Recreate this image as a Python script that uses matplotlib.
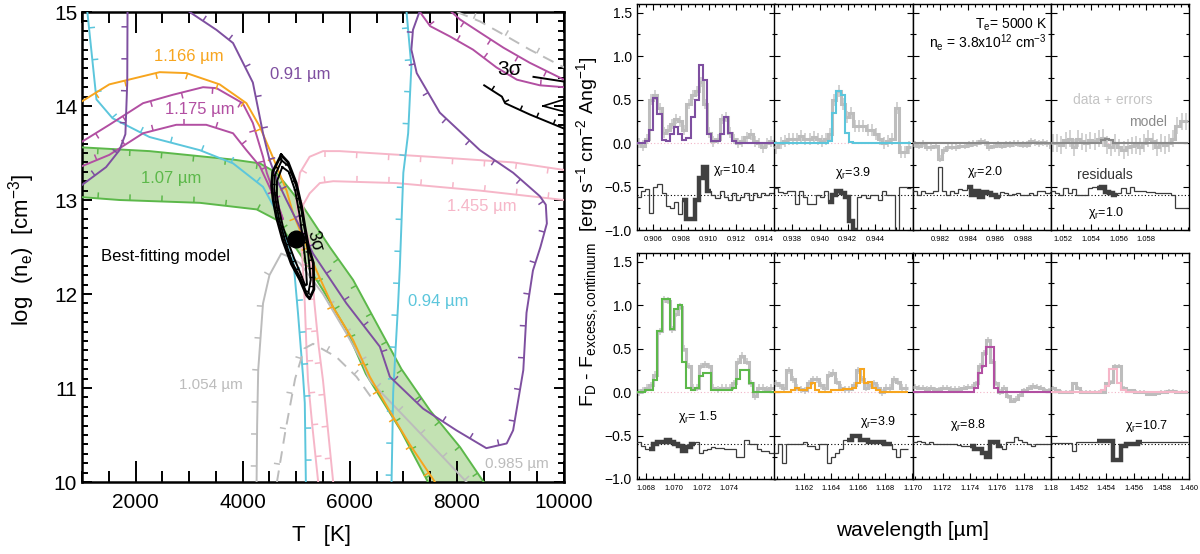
import numpy as np
import matplotlib
matplotlib.use("Agg")
import matplotlib.pyplot as plt
from matplotlib.ticker import MultipleLocator, FixedLocator, NullFormatter

plt.rcParams['font.family'] = ['Liberation Sans', 'DejaVu Sans']
plt.rcParams['mathtext.default'] = 'regular'

# ---------------- LEFT PANEL DATA (T [K], log n_e) ----------------
CYAN_L_T = [1100, 1270, 1570, 2260, 3200, 3820, 4380, 4580, 4820, 4940, 5034, 5128, 5160, 5180]
CYAN_L_N = [15.0, 14.07, 13.87, 13.67, 13.53, 13.39, 13.14, 12.93, 12.57, 12.4, 11.79, 11.12, 10.84, 10.0]
CYAN_R_T = [7060, 7150, 7090, 7000, 6935, 6903, 6810, 6780]
CYAN_R_N = [15.0, 14.42, 13.71, 13.29, 12.29, 11.9, 10.95, 10.0]

PURPLE_A_T = [1000, 1450, 1700, 1810, 1845, 1850]
PURPLE_A_N = [13.16, 13.35, 13.53, 13.7, 14.25, 15.0]
PURPLE_B_T = [3010, 3510, 3820, 4190, 4380, 4500, 4650, 4817, 5314, 5938, 6561, 6748, 7370, 7990,
              8550, 8930, 9050, 9240, 9300, 9420, 9560, 9680, 9660, 9550, 9050, 8430, 7680, 7250,
              7150, 7180, 7300]
PURPLE_B_N = [15.0, 14.81, 14.67, 14.25, 13.71, 13.43, 13.2, 13.0, 12.43, 11.9, 11.44, 11.12, 10.78, 10.55,
              10.36, 10.41, 10.55, 11.19, 11.8, 12.25, 12.5, 12.75, 12.95, 13.04, 13.29, 13.53, 13.93, 14.35,
              14.6, 14.81, 15.0]

ORANGE_T = [1000, 1510, 2450, 2950, 3570, 4070, 4320, 4560, 4820, 4940, 5377, 5688, 6062, 6374, 6750, 7120, 7590]
ORANGE_N = [14.05, 14.23, 14.36, 14.35, 14.23, 14.03, 13.78, 13.46, 13.1, 12.86, 12.25, 11.86, 11.51, 11.12, 10.75, 10.4, 10.0]

MAG_U_T = [1000, 1510, 2140, 2700, 3260, 3510, 4000, 4190, 4380, 4450, 4600, 4750]
MAG_U_N = [13.62, 13.8, 14.03, 14.12, 14.2, 14.19, 14.03, 13.82, 13.46, 13.29, 13.05, 12.8]
MAG_L_T = [1000, 1510, 2140, 2760, 3320, 3820, 4070, 4320, 4500, 4650, 4750]
MAG_L_N = [13.36, 13.48, 13.71, 13.8, 13.8, 13.71, 13.53, 13.36, 13.14, 12.95, 12.8]
MAG_C1_T = [7310, 7500, 7870, 8300, 8740, 9120, 9550, 10000]
MAG_C1_N = [15.0, 14.85, 14.74, 14.6, 14.41, 14.28, 14.22, 14.2]
MAG_C2_T = [7900, 8060, 8490, 8870, 9360, 10000]
MAG_C2_N = [15.0, 14.92, 14.76, 14.62, 14.46, 14.28]

GRAY_DC_T = [8000, 8430, 8870, 9360, 10000]
GRAY_DC_N = [15.0, 14.9, 14.76, 14.6, 14.41]
GRAY_S_T = [4260, 4270, 4290, 4380, 4500, 4720, 4850, 5065, 5500, 5938, 6249, 6374, 7180, 8180]
GRAY_S_N = [10.0, 10.6, 11.19, 11.9, 12.2, 12.43, 12.4, 12.33, 12.0, 11.58, 11.26, 11.08, 10.6, 10.0]
GRAY_D_T = [4640, 4800, 4980, 5150, 5314, 5750, 6125, 6400]
GRAY_D_N = [10.0, 10.55, 11.1, 11.42, 11.47, 11.33, 11.12, 10.9]

PINK_1_T = [10000, 9050, 7500, 5810, 5500, 5250, 5070, 5000, 5050, 5100, 5130, 5160, 5190, 5220, 5300, 5410]
PINK_1_N = [13.32, 13.4, 13.46, 13.52, 13.52, 13.46, 13.29, 13.0, 12.75, 12.54, 12.22, 11.9, 11.44, 11.08, 10.6, 10.0]
PINK_2_T = [10000, 8430, 6870, 5690, 5440, 5250, 5130, 5150, 5250, 5300, 5340, 5420, 5500, 5690]
PINK_2_N = [13.0, 13.1, 13.18, 13.2, 13.18, 13.07, 12.95, 12.75, 12.54, 12.2, 11.9, 11.44, 11.08, 10.0]

GREEN_U_T = [1000, 2260, 3820, 4320, 4630, 4900, 5127, 5626, 6062, 6499, 6966, 7500, 8060, 8500]
GREEN_U_N = [13.56, 13.52, 13.43, 13.39, 13.29, 13.1, 12.93, 12.5, 12.15, 11.69, 11.2, 10.76, 10.37, 10.0]
GREEN_L_T = [1000, 1700, 3200, 4260, 4630, 4800, 5065, 5500, 5938, 6300, 6950, 7460]
GREEN_L_N = [13.03, 13.0, 12.97, 12.9, 12.79, 12.65, 12.43, 12.04, 11.62, 11.15, 10.55, 10.0]

SIG3_T = [4720, 4560, 4540, 4570, 4630, 4750, 4910, 5070, 5190, 5250, 5330, 5320, 5230, 5160, 5100, 5000, 4850, 4720]
SIG3_N = [13.48, 13.3, 13.15, 13.0, 12.82, 12.57, 12.32, 12.15, 11.99, 11.95, 12.05, 12.33, 12.5, 12.72, 12.93, 13.18, 13.4, 13.48]
SIG2_T = [4730, 4600, 4590, 4620, 4680, 4790, 4930, 5080, 5180, 5230, 5270, 5220, 5150, 5090, 5000, 4860, 4730]
SIG2_N = [13.42, 13.26, 13.12, 12.98, 12.8, 12.57, 12.33, 12.17, 12.03, 12.02, 12.15, 12.45, 12.72, 12.92, 13.15, 13.36, 13.42]
SIG1_T = [4740, 4640, 4640, 4680, 4750, 4850, 4960, 5080, 5160, 5200, 5180, 5120, 5060, 4980, 4860, 4740]
SIG1_N = [13.35, 13.2, 13.05, 12.9, 12.72, 12.55, 12.38, 12.22, 12.1, 12.1, 12.3, 12.6, 12.85, 13.1, 13.3, 13.35]
BLK_C_T = [8510, 8840, 8900, 9360, 10000]
BLK_C_N = [14.22, 14.1, 14.03, 13.91, 13.76]
BLK_S_T = [9430, 10000]
BLK_S_N = [14.31, 14.26]
BLK_TRI_T = [9610, 10000, 10000, 9610]
BLK_TRI_N = [14.0, 14.07, 13.94, 14.0]
BEST_T, BEST_N = 5000, 12.58

# ---------------- RIGHT PANELS DATA ----------------
BIN = 0.0003
STARTS = [0.9048, 0.9367, 0.9800, 1.0511, 1.0673, 1.1598, 1.1698, 1.4500]
XLIMS = [(0.9048, 0.9148), (0.9367, 0.9467), (0.9800, 0.9900), (1.0511, 1.0611),
         (1.0673, 1.0773), (1.1598, 1.1700), (1.1698, 1.1800), (1.4500, 1.4600)]
TICKS = [[0.906, 0.908, 0.910, 0.912, 0.914], [0.938, 0.940, 0.942, 0.944],
         [0.982, 0.984, 0.986, 0.988], [1.052, 1.054, 1.056, 1.058],
         [1.068, 1.070, 1.072, 1.074], [1.162, 1.164, 1.166, 1.168, 1.170],
         [1.172, 1.174, 1.176, 1.178, 1.18], [1.452, 1.454, 1.456, 1.458, 1.460]]
TICKLABELS = [['0.906', '0.908', '0.910', '0.912', '0.914'], ['0.938', '0.940', '0.942', '0.944'],
              ['0.982', '0.984', '0.986', '0.988'], ['1.052', '1.054', '1.056', '1.058'],
              ['1.068', '1.070', '1.072', '1.074'], ['1.162', '1.164', '1.166', '1.168', '1.170'],
              ['1.172', '1.174', '1.176', '1.178', '1.18'], ['1.452', '1.454', '1.456', '1.458', '1.460']]

P1_DATA = [0.0, -0.03, 0.05, 0.5, 0.55, 0.4, 0.12, 0.15, 0.22, 0.28, 0.25, 0.15, 0.45, 0.55, 0.6, 0.7, 0.45,
           0.12, 0.02, 0.05, 0.28, 0.3, 0.12, 0.05, 0.0, 0.02, 0.07, 0.1, 0.02, 0.0, -0.05, 0.0, 0.02, -0.02]
P1_MODEL = [0, 0, 0.02, 0.15, 0.52, 0.33, 0.04, 0.02, 0.1, 0.18, 0.1, 0.03, 0.06, 0.3, 0.5, 0.9, 0.72,
            0.1, 0.02, 0.02, 0.1, 0.3, 0.12, 0.02, 0, 0, 0, 0, 0, 0, 0, 0, 0, 0]
P1_RESID = [-0.62, -0.55, -0.53, -0.8, -0.5, -0.47, -0.58, -0.72, -0.75, -0.68, -0.82, -0.65, -0.87, -0.87,
            -0.65, -0.4, -0.28, -0.55, -0.6, -0.63, -0.55, -0.62, -0.65, -0.58, -0.65, -0.62, -0.57, -0.65,
            -0.57, -0.62, -0.58, -0.6, -0.58, -0.6]
P2_DATA = [-0.05, 0.0, 0.02, 0.05, 0.05, 0.05, 0.08, 0.05, 0.05, 0.07, 0.05, 0.02, 0.05, 0.1, 0.5, 0.6, 0.45,
           0.3, 0.35, 0.2, 0.2, 0.2, 0.15, 0.15, 0.1, 0.05, 0.0, 0.02, 0.05, 0.4, -0.1, -0.1, -0.05]
P2_MODEL = [0, 0, 0, 0, 0, 0, 0, 0, 0, 0, 0, 0, 0, 0.02, 0.35, 0.6, 0.55, 0.12, 0.01,
            0, 0, 0, 0, 0, 0, 0, 0, 0, 0, 0, 0, 0, 0]
P2_RESID = [-0.52, -0.56, -0.58, -0.55, -0.55, -0.7, -0.55, -0.62, -0.7, -0.7, -0.6, -0.62, -0.55, -0.68,
            -0.6, -0.55, -0.58, -0.62, -0.9, -1.0, -0.62, -0.6, -0.63, -0.6, -0.6, -0.65, -0.55, -0.6, -0.6,
            -1.0, -0.5, -0.5, -0.52]
P3_DATA = [-0.02, -0.03, 0.0, -0.05, -0.05, -0.03, -0.18, -0.08, -0.05, -0.04, -0.05, -0.03, -0.03, -0.02,
           -0.01, 0.0, 0.02, 0.01, -0.05, -0.03, -0.02, -0.03, -0.02, -0.02, 0.0, -0.01, -0.02, -0.02, 0.02,
           0.01, 0.0, 0.01, 0.0, -0.05]
P3_MODEL = [0, 0, 0, 0, 0, 0, 0, 0, 0, 0, 0, 0, 0, 0, 0, 0, 0, 0, 0, 0, 0, 0, 0, 0, 0, 0, 0, 0, 0, 0, 0, 0, 0, 0]
P3_RESID = [-0.55, -0.6, -0.55, -0.57, -0.58, -0.55, -0.28, -0.55, -0.6, -0.55, -0.58, -0.53, -0.54, -0.5,
            -0.6, -0.55, -0.62, -0.56, -0.58, -0.6, -0.62, -0.56, -0.58, -0.6, -0.59, -0.58, -0.6, -0.6,
            -0.58, -0.6, -0.55, -0.55, -0.58, -0.56]
P4_DATA = [0.0, 0.0, -0.02, 0.03, 0.05, -0.05, 0.05, 0.02, 0.0, 0.03, 0.02, 0.05, 0.06, -0.02, -0.05, 0.0,
           -0.05, -0.08, -0.05, -0.03, -0.02, -0.04, 0.0, 0.05, 0.02, -0.05, 0.0, -0.02, 0.0, 0.05, 0.2, 0.25, 0.25]
P4_MODEL = [0, 0, 0, 0, 0, 0, 0, 0, 0, 0, 0, 0, 0.04, 0.05, 0.03, 0, 0, 0, 0, 0, 0, 0, 0, 0, 0, 0, 0, 0, 0,
            0, 0, 0, 0]
P4_RESID = [-0.55, -0.57, -0.6, -0.52, -0.58, -0.53, -0.6, -0.6, -0.6, -0.52, -0.5, -0.52, -0.5, -0.56,
            -0.58, -0.6, -0.58, -0.52, -0.58, -0.5, -0.55, -0.55, -0.55, -0.56, -0.56, -0.57, -0.58, -0.58,
            -0.58, -0.6, -0.75, -0.75, -0.75]
P5_DATA = [0.0, 0.02, 0.05, 0.08, 0.2, 0.7, 1.07, 1.05, 0.72, 0.9, 0.98, 0.5, 0.3, 0.05, 0.05, 0.3, 0.32,
           0.3, 0.05, 0.03, 0.05, 0.05, 0.05, 0.1, 0.35, 0.42, 0.35, 0.1, -0.05, 0.05, 0.05, 0.03, 0.05]
P5_MODEL = [0, 0, 0.02, 0.02, 0.14, 0.7, 1.07, 1.07, 0.72, 0.95, 1.0, 0.35, 0.05, 0.02, 0.05, 0.18, 0.22,
            0.22, 0.02, 0.02, 0.02, 0.02, 0.02, 0.05, 0.15, 0.25, 0.25, 0.1, 0, 0, 0, 0, 0]
P5_RESID = [-0.58, -0.62, -0.65, -0.66, -0.6, -0.57, -0.57, -0.55, -0.58, -0.6, -0.62, -0.68, -0.63, -0.6,
            -0.57, -0.7, -0.67, -0.65, -0.63, -0.64, -0.64, -0.65, -0.66, -0.66, -0.75, -0.75, -0.55, -0.6,
            -0.6, -0.65, -0.68, -0.68, -0.7]
P6_DATA = [0.1, 0.08, 0.05, 0.25, 0.15, 0.05, 0.03, 0.02, 0.1, 0.15, 0.15, 0.08, 0.05, 0.2, 0.22, 0.12, 0.05,
           0.03, 0.03, 0.08, 0.25, 0.15, 0.05, 0.08, 0.1, 0.05, 0.0, 0.05, 0.05, 0.15, 0.12, 0.05, 0.05]
P6_MODEL = [0, 0, 0, 0, 0.02, 0.05, 0.02, 0.02, 0.05, 0.1, 0.02, 0.0, 0.0, 0.0, 0.02, 0.02, 0.02, 0.03,
            0.03, 0.05, 0.1, 0.27, 0.1, 0.12, 0.05, 0.02, 0, 0, 0, 0, 0, 0, 0]
P6_RESID = [-0.7, -0.6, -0.82, -0.6, -0.6, -0.6, -0.6, -0.58, -0.62, -0.62, -0.65, -0.6, -0.6, -0.82, -0.75,
            -0.7, -0.65, -0.55, -0.55, -0.5, -0.5, -0.55, -0.55, -0.58, -0.57, -0.57, -0.57, -0.6, -0.6,
            -0.65, -0.75, -0.65, -0.65]
P7_DATA = [0.06, 0.05, 0.05, 0.04, 0.05, 0.03, 0.03, 0.05, 0.05, 0.04, 0.04, 0.04, 0.05, 0.06, 0.06, 0.1,
           0.3, 0.45, 0.6, 0.35, 0.1, 0.0, 0.05, -0.05, -0.1, -0.08, -0.03, 0.02, 0.05, 0.07, 0.06, 0.05,
           0.02, 0.02]
P7_MODEL = [0, 0, 0, 0, 0, 0, 0, 0, 0, 0, 0, 0, 0, 0, 0, 0.05, 0.22, 0.3, 0.52, 0.52, 0.05,
            0, 0, 0, 0, 0, 0, 0, 0, 0, 0, 0, 0, 0]
P7_RESID = [-0.58, -0.56, -0.58, -0.6, -0.58, -0.6, -0.6, -0.6, -0.6, -0.6, -0.6, -0.61, -0.62, -0.62,
            -0.62, -0.65, -0.65, -0.7, -0.75, -0.57, -0.57, -0.62, -0.66, -0.58, -0.58, -0.52, -0.55, -0.57,
            -0.6, -0.62, -0.6, -0.6, -0.6, -0.6]
P8_DATA = [0.05, 0.02, 0.0, 0.0, 0.0, 0.1, 0.05, 0.0, 0.0, 0.0, 0.0, 0.0, 0.0, 0.1, 0.12, 0.3, 0.3, 0.05,
           0.02, 0.02, 0.0, 0.0, 0.0, -0.02, -0.02, -0.01, 0.0, 0.0, 0.01, 0.01, 0.0, 0.0, 0.0]
P8_MODEL = [0, 0, 0, 0, 0, 0, 0, 0, 0, 0, 0, 0, 0.02, 0.07, 0.27, 0.27, 0.1, 0.02,
            0, 0, 0, 0, 0, 0, 0, 0, 0, 0, 0, 0, 0, 0, 0]
P8_RESID = [-0.59, -0.59, -0.59, -0.59, -0.59, -0.68, -0.58, -0.58, -0.58, -0.58, -0.58, -0.56, -0.56,
            -0.56, -0.56, -0.78, -0.78, -0.62, -0.6, -0.6, -0.6, -0.58, -0.58, -0.58, -0.58, -0.58, -0.57,
            -0.57, -0.57, -0.57, -0.58, -0.58, -0.58]

ERRS = [0.06, 0.07, 0.04, 0.1, 0.04, 0.04, 0.03, 0.02]
THICK = [(0.9081, 0.9102), (0.9406, 0.9427), (0.9839, 0.9864), (1.0544, 1.0560),
         (1.0681, 1.0716), (1.1651, 1.1686), (1.1740, 1.1765), (1.4533, 1.4565)]
CHI = ['10.4', '3.9', '2.0', '1.0', ' 1.5', '3.9', '8.8', '10.7']

C_PURPLE = '#7e4fa0'
C_CYAN = '#5cc6dc'
C_ORANGE = '#f7a51e'
C_MAG = '#b24fa2'
C_GREEN = '#5cb84a'
C_PINK = '#f6b6c8'
C_GRAY = '#bcbcbc'
MODEL_COLORS = [C_PURPLE, C_CYAN, '#8a8a8a', '#8a8a8a', C_GREEN, C_ORANGE, C_MAG, C_PINK]

DATAS = [P1_DATA, P2_DATA, P3_DATA, P4_DATA, P5_DATA, P6_DATA, P7_DATA, P8_DATA]
MODELS = [P1_MODEL, P2_MODEL, P3_MODEL, P4_MODEL, P5_MODEL, P6_MODEL, P7_MODEL, P8_MODEL]
RESIDS = [P1_RESID, P2_RESID, P3_RESID, P4_RESID, P5_RESID, P6_RESID, P7_RESID, P8_RESID]

# ---------------- FIGURE ----------------
fig = plt.figure(figsize=(12, 5.54), dpi=100)
ax = fig.add_axes([82 / 1200, 1 - 482 / 554, 482 / 1200, 470 / 554])
ax.set_xlim(1000, 10000)
ax.set_ylim(10, 15)


def hatch(axx, T, N, color, side=1, step=32, length=6, lw=1.1, z=3):
    pts = axx.transData.transform(np.column_stack([T, N]))
    seg = np.diff(pts, axis=0)
    L = np.hypot(seg[:, 0], seg[:, 1])
    keep = L > 0
    pts0 = pts[:-1][keep]
    seg = seg[keep]
    L = L[keep]
    cum = np.concatenate([[0], np.cumsum(L)])
    inv = axx.transData.inverted()
    s = step * 0.5
    while s < cum[-1]:
        i = min(np.searchsorted(cum, s) - 1, len(L) - 1)
        i = max(i, 0)
        f = (s - cum[i]) / L[i]
        p = pts0[i] + f * seg[i]
        d = seg[i] / L[i]
        nrm = np.array([-d[1], d[0]]) * side
        q = p + nrm * length
        xy = inv.transform(np.array([p, q]))
        axx.plot(xy[:, 0], xy[:, 1], color=color, lw=lw, solid_capstyle='butt', zorder=z)
        s += step


# green band
ax.fill(np.r_[GREEN_U_T, GREEN_L_T[::-1]], np.r_[GREEN_U_N, GREEN_L_N[::-1]], color='#c3e2b3', lw=0, zorder=1)
curves = [
    (GREEN_U_T, GREEN_U_N, C_GREEN, -1),
    (GREEN_L_T, GREEN_L_N, C_GREEN, 1),
    (GRAY_S_T, GRAY_S_N, C_GRAY, 1),
    (PINK_1_T, PINK_1_N, C_PINK, 1),
    (PINK_2_T, PINK_2_N, C_PINK, -1),
    (CYAN_L_T, CYAN_L_N, C_CYAN, 1),
    (CYAN_R_T, CYAN_R_N, C_CYAN, -1),
    (MAG_U_T, MAG_U_N, C_MAG, -1),
    (MAG_L_T, MAG_L_N, C_MAG, 1),
    (MAG_C1_T, MAG_C1_N, C_MAG, 1),
    (MAG_C2_T, MAG_C2_N, C_MAG, -1),
    (ORANGE_T, ORANGE_N, C_ORANGE, -1),
    (PURPLE_A_T, PURPLE_A_N, C_PURPLE, 1),
    (PURPLE_B_T, PURPLE_B_N, C_PURPLE, 1),
]
for T, N, c, side in curves:
    ax.plot(T, N, color=c, lw=1.4, zorder=3)
    hatch(ax, T, N, c, side=side)
for T, N in [(GRAY_D_T, GRAY_D_N), (GRAY_DC_T, GRAY_DC_N)]:
    ax.plot(T, N, color=C_GRAY, lw=1.4, ls=(0, (6, 4)), zorder=3)
    hatch(ax, T, N, C_GRAY, side=1, step=36)

# black confidence contours
for T, N, w in [(SIG3_T, SIG3_N, 2.0), (SIG2_T, SIG2_N, 1.4), (SIG1_T, SIG1_N, 1.4)]:
    ax.plot(T, N, color='k', lw=w, zorder=5)
hatch(ax, SIG3_T, SIG3_N, 'k', side=1, step=9, length=4, lw=1.0, z=5)
ax.plot(BLK_C_T, BLK_C_N, color='k', lw=1.4, zorder=5)
hatch(ax, BLK_C_T, BLK_C_N, 'k', side=1, step=18, length=5, lw=1.1, z=5)
ax.plot(BLK_S_T, BLK_S_N, color='k', lw=1.4, zorder=5)
ax.plot(BLK_TRI_T, BLK_TRI_N, color='k', lw=1.2, zorder=5)
ax.plot([BEST_T], [BEST_N], 'o', color='k', ms=12, zorder=6)

# labels
lab = dict(zorder=7, ha='center', va='center')
ax.text(2990, 14.53, '1.166 µm', color=C_ORANGE, fontsize=12, **lab)
ax.text(5080, 14.33, '0.91 µm', color=C_PURPLE, fontsize=12, **lab)
ax.text(3200, 13.96, '1.175 µm', color=C_MAG, fontsize=12, **lab)
ax.text(2670, 13.23, '1.07 µm', color=C_GREEN, fontsize=12, **lab)
ax.text(8460, 12.93, '1.455 µm', color=C_PINK, fontsize=12, **lab)
ax.text(7650, 11.92, '0.94 µm', color=C_CYAN, fontsize=12, **lab)
ax.text(3410, 11.03, '1.054 µm', color=C_GRAY, fontsize=11, **lab)
ax.text(9115, 10.19, '0.985 µm', color=C_GRAY, fontsize=11, **lab)
ax.text(2550, 12.4, 'Best-fitting model', color='k', fontsize=12, **lab)
ax.text(8990, 14.39, '3σ', color='k', fontsize=15, **lab)
ax.text(5340, 12.56, '3σ', color='k', fontsize=13, rotation=-75, **lab)

ax.xaxis.set_major_locator(MultipleLocator(2000))
ax.xaxis.set_minor_locator(MultipleLocator(500))
ax.yaxis.set_major_locator(MultipleLocator(1))
ax.yaxis.set_minor_locator(MultipleLocator(0.1))
ax.tick_params(which='both', direction='in', top=True, right=True, labelsize=15, width=1.4)
ax.tick_params(axis='x', which='major', length=15, pad=8)
ax.tick_params(axis='x', which='minor', length=8)
ax.tick_params(axis='y', which='major', length=7.5)
ax.tick_params(axis='y', which='minor', length=4)
for sp in ax.spines.values():
    sp.set_linewidth(1.8)
fig.text(321 / 1200, 1 - 535 / 554, 'T   [K]', fontsize=16, ha='center', va='center')
fig.text(22 / 1200, 1 - 250 / 554, 'log  (n$_e$)  [cm$^{-3}$]', fontsize=16, rotation=90, ha='center', va='center')

# ---------------- RIGHT PANELS ----------------
lefts = [636.7, 774.3, 912.7, 1051.0]
tops = [4, 253]
pw, ph = 138.2, 226
for i in range(8):
    row, col = divmod(i, 4)
    axp = fig.add_axes([lefts[col] / 1200, 1 - (tops[row] + ph) / 554, pw / 1200, ph / 554])
    data = np.array(DATAS[i]); model = np.array(MODELS[i]); resid = np.array(RESIDS[i])
    edges = STARTS[i] + BIN * np.arange(len(data) + 1)
    cen = 0.5 * (edges[:-1] + edges[1:])
    axp.axhline(0, color='#f2b4c6', lw=0.8, ls=(0, (1, 2)), zorder=1)
    axp.axhline(-0.6, color='k', lw=0.8, ls=(0, (1, 2)), zorder=1)
    axp.errorbar(cen, data, yerr=ERRS[i], fmt='none', ecolor='#c6c6c6', elinewidth=1.1, zorder=2)
    axp.stairs(data, edges, baseline=None, color='#bdbdbd', lw=2.2, zorder=3)
    axp.stairs(model, edges, baseline=None, color=MODEL_COLORS[i], lw=1.5, zorder=4)
    axp.stairs(resid, edges, baseline=None, color='#3c3c3c', lw=0.9, zorder=4)
    lo, hi = THICK[i]
    idx = np.where((cen >= lo) & (cen <= hi))[0]
    if len(idx):
        axp.stairs(resid[idx[0]:idx[-1] + 1], edges[idx[0]:idx[-1] + 2], baseline=None,
                   color='#404040', lw=3.2, zorder=5)
    axp.set_xlim(*XLIMS[i])
    axp.set_ylim(-1.0, 1.6)
    axp.xaxis.set_major_locator(FixedLocator(TICKS[i]))
    axp.set_xticklabels(TICKLABELS[i])
    axp.xaxis.set_minor_locator(MultipleLocator(0.0005))
    axp.yaxis.set_major_locator(MultipleLocator(0.5))
    axp.yaxis.set_minor_locator(MultipleLocator(0.25))
    axp.tick_params(which='both', direction='in', top=True, right=True, width=0.8)
    axp.tick_params(which='major', length=4)
    axp.tick_params(which='minor', length=2.5)
    axp.tick_params(axis='x', labelsize=5.5, pad=4)
    axp.tick_params(axis='y', labelsize=10)
    if col != 0:
        axp.yaxis.set_major_formatter(NullFormatter())
    for sp in axp.spines.values():
        sp.set_linewidth(1.0)
    chi_pos = [(0.705, 0.265), (0.567, 0.252), (0.524, 0.257), (0.40, 0.075),
               (0.444, 0.274), (0.75, 0.252), (0.40, 0.239), (0.69, 0.235)][i]
    axp.text(chi_pos[0], chi_pos[1], r'$\chi_r$=' + CHI[i], transform=axp.transAxes,
             fontsize=9, ha='center', va='center', zorder=6)
    if i == 2:
        axp.text(0.97, 0.91, 'T$_e$= 5000 K', transform=axp.transAxes, fontsize=10, ha='right', va='center')
        axp.text(0.97, 0.83, 'n$_e$ = 3.8x10$^{12}$ cm$^{-3}$', transform=axp.transAxes, fontsize=10,
                 ha='right', va='center')
    if i == 3:
        axp.text(0.45, 0.575, 'data + errors', transform=axp.transAxes, fontsize=10, color='#c4c4c4',
                 ha='center', va='center')
        axp.text(0.70, 0.478, 'model', transform=axp.transAxes, fontsize=10, color='#8a8a8a',
                 ha='center', va='center')
        axp.text(0.39, 0.243, 'residuals', transform=axp.transAxes, fontsize=10, color='#333333',
                 ha='center', va='center')

fig.text(588 / 1200, 1 - 232 / 554,
         'F$_D$ - F$_{excess,continuum}$  [erg s$^{-1}$ cm$^{-2}$ Ang$^{-1}$]',
         fontsize=14, rotation=90, ha='center', va='center')
fig.text(912 / 1200, 1 - 530 / 554, 'wavelength [µm]', fontsize=15, ha='center', va='center')

fig.savefig('out.png', dpi=100)
